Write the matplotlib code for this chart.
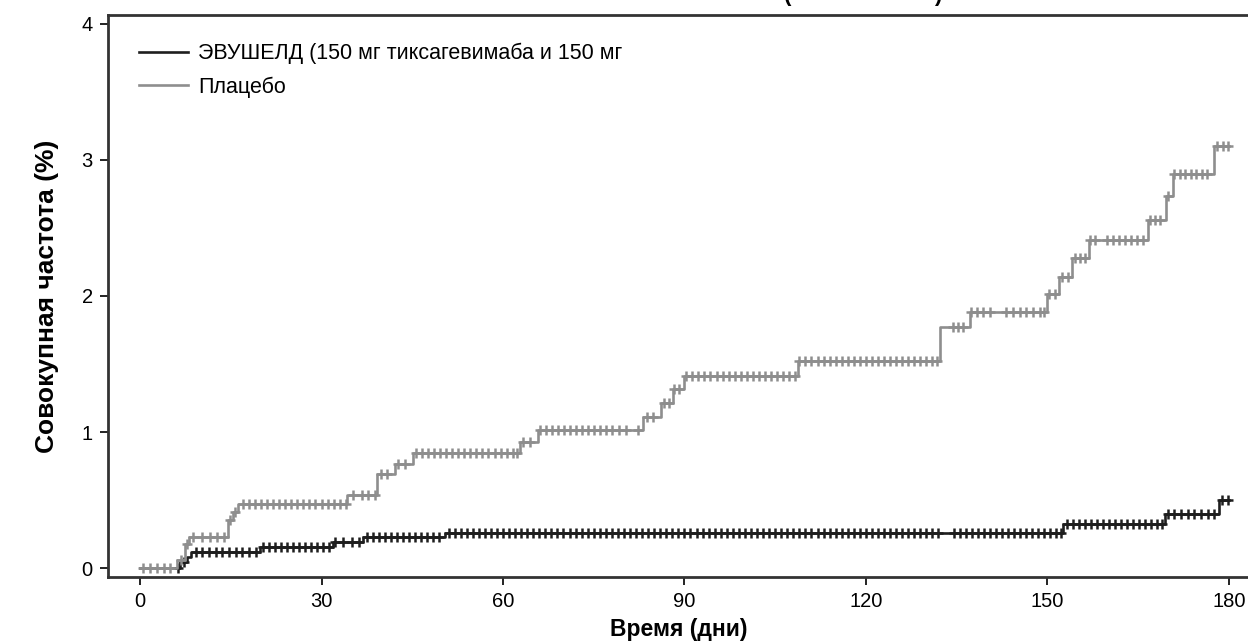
import numpy as np
import matplotlib
matplotlib.use("Agg")
import matplotlib.pyplot as plt

plt.rcParams['font.family'] = ['Liberation Sans', 'DejaVu Sans']

# step curves: time of each jump (days) and cumulative incidence after it (%)
evu_t = [0, 6.6, 7.7, 8.5, 19.8, 31.9, 36.9, 50.4, 152.6, 169.4, 178.4]
evu_v = [0, 0.045, 0.08, 0.115, 0.155, 0.19, 0.225, 0.26, 0.32, 0.40, 0.50]
evu_end = 180.0

pla_t = [0, 6.1, 7.4, 8.1, 14.6, 15.4, 16.2, 34.2, 39.2, 42.1, 45.1, 62.8, 65.8,
         83.2, 86.2, 88.1, 90.0, 108.7, 132.2, 137.2, 150.0, 152.0, 154.0, 156.9,
         166.6, 169.6, 170.7, 177.6]
pla_v = [0, 0.06, 0.18, 0.23, 0.35, 0.41, 0.47, 0.54, 0.69, 0.765, 0.845, 0.93, 1.015,
         1.11, 1.21, 1.315, 1.41, 1.52, 1.77, 1.885, 2.015, 2.14, 2.28, 2.41,
         2.56, 2.735, 2.90, 3.10]
pla_end = 180.0

# censored observations (days)
evu_cens = [6.2, 7.2,
            9.2, 10.3, 11.4, 12.5, 13.6, 14.7, 15.8, 16.9, 18.0, 19.1,
            20.3, 21.3, 22.3, 23.3, 24.3, 25.3, 26.3, 27.3, 28.3, 29.3, 30.3, 31.3,
            32.3, 33.6, 35.0, 36.2,
            37.5, 38.5, 39.5, 40.5, 41.5, 42.5, 43.5, 44.5, 45.5, 46.5, 47.5, 48.5, 49.5,
            51, 52, 53, 54, 55, 56, 57, 58, 59, 60, 61, 62, 63, 64, 65, 66, 67, 68, 69, 70,
            71, 72, 73, 74, 75, 76, 77, 78, 79, 80, 81, 82, 83, 84, 85, 86, 87, 88, 89, 90,
            91, 92, 93, 94, 95, 96, 97, 98, 99, 100, 101, 102, 103, 104, 105, 106, 107, 108,
            109, 110, 111, 112, 113, 114, 115, 116, 117, 118, 119, 120, 121, 122, 123, 124,
            125, 126, 127, 128, 129, 130, 131, 132,
            134.5, 135.5, 136.5, 137.5, 138.5, 139.5, 140.5, 141.5, 142.5, 143.5, 144.5,
            145.5, 146.5, 147.5, 148.5, 149.5, 150.5, 151.5, 152.3,
            153.2, 154.2, 155.2, 156.2, 157.2, 158.2, 159.2, 160.2, 161.2, 162.2, 163.2,
            164.2, 165.2, 166.2, 167.2, 168.2, 169.0,
            169.9, 171.0, 172.1, 173.2, 174.3, 175.4, 176.5, 177.6,
            178.8, 179.8]

pla_cens = [0.5, 1.7, 2.8, 3.9, 5.0,
            6.8, 7.8,
            8.8, 10.2, 11.6, 12.7, 13.9,
            14.9, 15.7,
            17.0, 18.0, 19.0, 20.0, 21.0, 22.0, 23.0, 24.0, 25.0, 26.0, 27.0, 28.0,
            29.0, 30.0, 31.0, 32.0, 33.0, 34.0,
            35.2, 36.7, 37.7, 38.8,
            39.8, 40.9,
            42.7, 43.8,
            45.6, 46.6, 47.6, 48.6, 49.6, 50.6, 51.6, 52.6, 53.6, 54.6, 55.6, 56.6,
            57.6, 58.6, 59.6, 60.6, 61.6, 62.4,
            63.3, 64.5,
            66.1, 67.1, 68.1, 69.1, 70.1, 71.1, 72.1, 73.1, 74.1, 75.1, 76.1, 77.1,
            78.1, 79.1, 80.3, 82.3,
            83.8, 84.8,
            86.6, 87.4,
            88.3, 89.1,
            90.3, 91.3, 92.3, 93.3, 94.3, 95.3, 96.3, 97.3, 98.3, 99.3, 100.3, 101.3,
            102.3, 103.3, 104.3, 105.3, 106.3, 107.3, 108.3,
            109.0, 110.0, 111.0, 112.0, 113.0, 114.0, 115.0, 116.0, 117.0, 118.0, 119.0,
            120.0, 121.0, 122.0, 123.0, 124.0, 125.0, 126.0, 127.0, 128.0, 129.0, 130.0,
            131.0, 131.7,
            134.4, 135.2, 136.0,
            137.4, 138.3, 139.4, 140.5, 143.1, 144.3, 145.4, 146.5, 147.6, 148.7, 149.5,
            150.3, 151.3, 152.4, 153.4, 154.6, 155.4, 156.3,
            157.1, 157.8, 159.9, 160.9, 161.9, 162.9, 163.9, 164.9, 165.8,
            166.9, 167.8, 168.7, 169.9,
            171.0, 171.9, 172.8, 173.7, 174.6, 175.5, 176.4,
            178.0, 179.0, 179.9]

labels = ['ЭВУШЕЛД (150 мг тиксагевимаба и 150 мг', 'Плацебо']
colors = ['#1e1e1e', '#8e8e8e']
x_ticks = [0, 30, 60, 90, 120, 150, 180]
y_ticks = [0, 1, 2, 3, 4]


def level_at(times, values, pts):
    idx = np.searchsorted(times, pts, side='right') - 1
    return np.asarray(values)[idx]


fig = plt.figure(figsize=(12.48, 6.44), dpi=100)
ax = fig.add_axes([108 / 1248, 67 / 644, 1142 / 1248, 562 / 644])

curves = [(evu_t, evu_v, evu_end, evu_cens), (pla_t, pla_v, pla_end, pla_cens)]
for (t, v, end, cens), lab, col in zip(curves, labels, colors):
    ax.step(t + [end], v + [v[-1]], where='post', color=col, lw=1.9, label=lab)
    ax.plot(cens, level_at(t, v, cens), ls='none', marker='+', ms=7.5, mew=1.8,
            color=col)

ax.set_xlim(-5.3, 183.5)
ax.set_ylim(-0.066, 4.066)
ax.set_xticks(x_ticks)
ax.set_yticks(y_ticks)
ax.tick_params(labelsize=14.5, length=6, width=1.4, color='#222222', pad=5)
for s in ax.spines.values():
    s.set_linewidth(2.0)
    s.set_color('#333333')

ax.set_xlabel('Время (дни)', fontsize=16.5, fontweight='bold', labelpad=5)
ax.set_ylabel('Совокупная частота (%)', fontsize=19, fontweight='bold', labelpad=16)

ax.legend(loc='upper left', bbox_to_anchor=(0.01, 0.985), frameon=False,
          fontsize=15.5, handlelength=2.3, handletextpad=0.45, labelspacing=0.58)

# title is cut off by the top edge of the picture
fig.text(788 / 1248, 0.998, '(', fontsize=16, fontweight='bold', ha='center', va='baseline')
fig.text(938 / 1248, 0.998, ')', fontsize=16, fontweight='bold', ha='center', va='baseline')

fig.savefig('out.png', dpi=100)
